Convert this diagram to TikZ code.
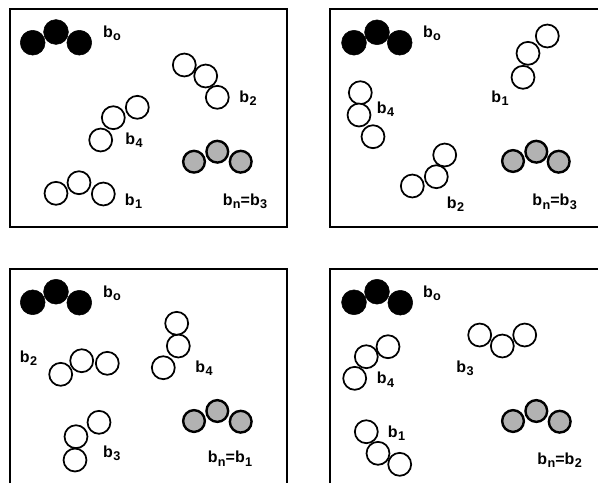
\documentclass[tikz,border=0pt]{standalone}
\usepackage{fontspec}
\setmainfont{Liberation Sans}
\usepackage{tikz}
\usetikzlibrary{shapes,positioning}
\tikzset{bead/.style={circle,draw=black,line width=1.3pt,fill=white,minimum size=17.2pt,inner sep=0pt}}
\tikzset{hot/.style={circle,draw=black,line width=0.4pt,fill=black,minimum size=18.6pt,inner sep=0pt}}
\tikzset{goal/.style={circle,draw=black,line width=1.8pt,fill=black!30,minimum size=16.3pt,inner sep=0pt}}
\tikzset{tag/.style={inner sep=0pt,font=\fontsize{12}{14}\selectfont\bfseries}}
\tikzset{frame/.style={line width=1.5pt}}
\newcommand{\sbs}[1]{\kern0.3pt\raisebox{-0.4ex}{\fontsize{9.5}{9.5}\selectfont #1}}

\begin{document}
\begin{tikzpicture}[x=0.75pt,y=-0.75pt]
                \useasboundingbox (0,0) rectangle (598,483);
                % panel A
                \draw [frame] (9.5,9) rectangle (287,227);
                \node [hot] (A01) at (32.7,42.7) {};
                \node [hot] (A03) at (79.3,42.7) {};
                \node [hot] (A02) at (56,32) {};
                \node [tag] (Al0) at (112,33) {b\sbs{o}};
                \node [bead] (A21) at (184.3,65) {};
                \node [bead] (A22) at (205.7,76) {};
                \node [bead] (A23) at (217.3,97.3) {};
                \node [tag] (Al2) at (248,98) {b\sbs{2}};
                \node [bead] (A41) at (100.7,140) {};
                \node [bead] (A42) at (113.3,117.7) {};
                \node [bead] (A43) at (137.3,107.3) {};
                \node [tag] (Al4) at (134,140) {b\sbs{4}};
                \node [bead] (A11) at (56,193.3) {};
                \node [bead] (A13) at (103.3,194) {};
                \node [bead] (A12) at (79,182.7) {};
                \node [tag] (Al1) at (133.5,201) {b\sbs{1}};
                \node [goal] (An1) at (194,161.7) {};
                \node [goal] (An3) at (240.7,161.7) {};
                \node [goal] (An2) at (217.3,151.7) {};
                \node [tag] (Aln) at (245,201) {b\sbs{n}=b\sbs{3}};
                % panel B
                \draw [frame] (598,9) -- (330,9) -- (330,227) -- (598,227);
                \node [hot] (B01) at (354,42.7) {};
                \node [hot] (B03) at (399.7,42.7) {};
                \node [hot] (B02) at (377,32.3) {};
                \node [tag] (Bl0) at (432,33.5) {b\sbs{o}};
                \node [bead] (B11) at (523,77.3) {};
                \node [bead] (B12) at (528,53.3) {};
                \node [bead] (B13) at (547.3,36) {};
                \node [tag] (Bl1) at (500,98.5) {b\sbs{1}};
                \node [bead] (B41) at (360.3,92.7) {};
                \node [bead] (B42) at (359,115) {};
                \node [bead] (B43) at (373,136.7) {};
                \node [tag] (Bl4) at (385.5,109.5) {b\sbs{4}};
                \node [bead] (B21) at (412.3,186) {};
                \node [bead] (B22) at (436.3,176.7) {};
                \node [bead] (B23) at (444.7,155) {};
                \node [tag] (Bl2) at (455.5,204) {b\sbs{2}};
                \node [goal] (Bn1) at (513,161) {};
                \node [goal] (Bn3) at (558.7,161.7) {};
                \node [goal] (Bn2) at (536.3,151.7) {};
                \node [tag] (Bln) at (554.7,201.7) {b\sbs{n}=b\sbs{3}};
                % panel C
                \draw [frame] (9.5,483) -- (9.5,269) -- (287,269) -- (287,483);
                \node [hot] (C01) at (32.7,302.3) {};
                \node [hot] (C03) at (79.3,302.7) {};
                \node [hot] (C02) at (56,291.7) {};
                \node [tag] (Cl0) at (112,293) {b\sbs{o}};
                \node [bead] (C21) at (60.7,374.3) {};
                \node [bead] (C22) at (81.7,360.7) {};
                \node [bead] (C23) at (107.3,363.3) {};
                \node [tag] (Cl2) at (28.5,358.5) {b\sbs{2}};
                \node [bead] (C41) at (163.3,367.7) {};
                \node [bead] (C42) at (178.3,346) {};
                \node [bead] (C43) at (176.7,323.3) {};
                \node [tag] (Cl4) at (204,368) {b\sbs{4}};
                \node [bead] (C31) at (75,460) {};
                \node [bead] (C32) at (76,436.7) {};
                \node [bead] (C33) at (99,422.3) {};
                \node [tag] (Cl3) at (111.7,453.5) {b\sbs{3}};
                \node [goal] (Cn1) at (194,421) {};
                \node [goal] (Cn3) at (240.7,421.7) {};
                \node [goal] (Cn2) at (217.3,411) {};
                \node [tag] (Cln) at (230,458.5) {b\sbs{n}=b\sbs{1}};
                % panel D
                \draw [frame] (330,483) -- (330,269) -- (598,269);
                \node [hot] (D01) at (354,302.3) {};
                \node [hot] (D03) at (400.3,302.7) {};
                \node [hot] (D02) at (377,291.7) {};
                \node [tag] (Dl0) at (432,293.5) {b\sbs{o}};
                \node [bead] (D41) at (354.7,378.3) {};
                \node [bead] (D42) at (366.3,356.7) {};
                \node [bead] (D43) at (388,346.7) {};
                \node [tag] (Dl4) at (385.5,379.5) {b\sbs{4}};
                \node [bead] (D31) at (479.7,335) {};
                \node [bead] (D33) at (524.7,335) {};
                \node [bead] (D32) at (502.3,346) {};
                \node [tag] (Dl3) at (465,368.5) {b\sbs{3}};
                \node [bead] (D11) at (366.3,431.7) {};
                \node [bead] (D12) at (378,453.3) {};
                \node [bead] (D13) at (399.7,464.3) {};
                \node [tag] (Dl1) at (396.5,433) {b\sbs{1}};
                \node [goal] (Dn1) at (513,421) {};
                \node [goal] (Dn3) at (559.7,421.7) {};
                \node [goal] (Dn2) at (536.3,411) {};
                \node [tag] (Dln) at (559.7,460) {b\sbs{n}=b\sbs{2}};
            \end{tikzpicture}
\end{document}
